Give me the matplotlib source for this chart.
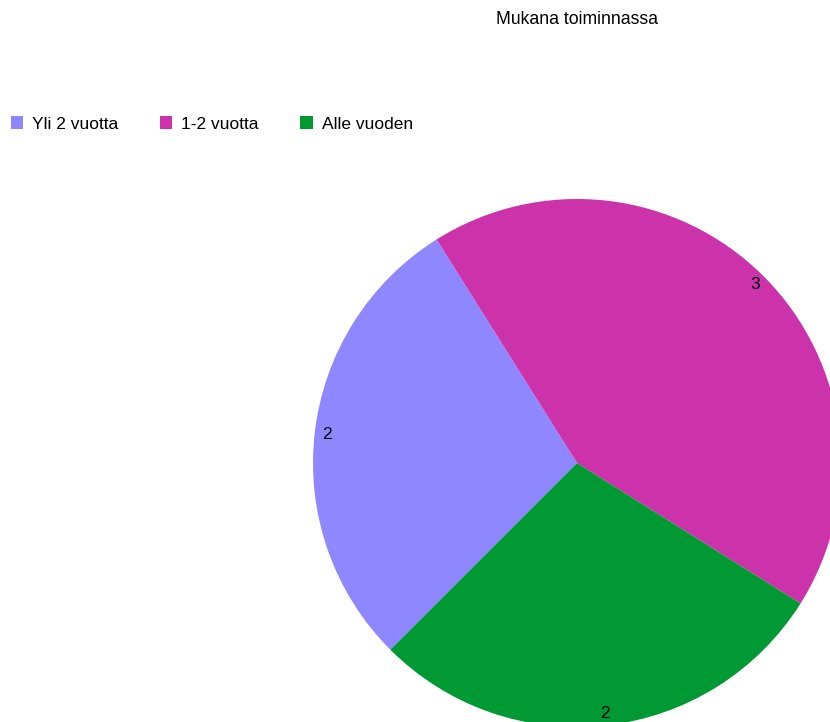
import matplotlib.pyplot as plt

plt.rcParams['font.family'] = ['Liberation Sans', 'DejaVu Sans']

labels = ['Yli 2 vuotta', '1-2 vuotta', 'Alle vuoden']
values = [2, 3, 2]
colors = ['#8f87ff', '#cc33aa', '#009933']

fig = plt.figure(figsize=(8.3, 7.22), dpi=100)
ax = fig.add_axes([0, 0, 1, 1])

wedges, texts = ax.pie(values, colors=colors, labels=[str(v) for v in values],
                       startangle=225, counterclock=False, center=(577, 259),
                       radius=264, labeldistance=0.955, frame=True,
                       textprops={'fontsize': 12.5, 'ha': 'center', 'va': 'center'})
ax.set_xlim(0, 830)
ax.set_ylim(0, 722)
ax.set_aspect('equal')
ax.axis('off')

fig.text(577 / 830, 1 - 20 / 722, 'Mukana toiminnassa', ha='center', va='center', fontsize=12.7)

fig.legend(wedges, labels, loc='center left', bbox_to_anchor=(2 / 830, 1 - 124 / 722),
           ncol=3, frameon=False, fontsize=12.5, handlelength=0.7, handleheight=0.7,
           handletextpad=0.53, columnspacing=2.4, borderaxespad=0, borderpad=0.5)

fig.savefig('out.png', dpi=100)
